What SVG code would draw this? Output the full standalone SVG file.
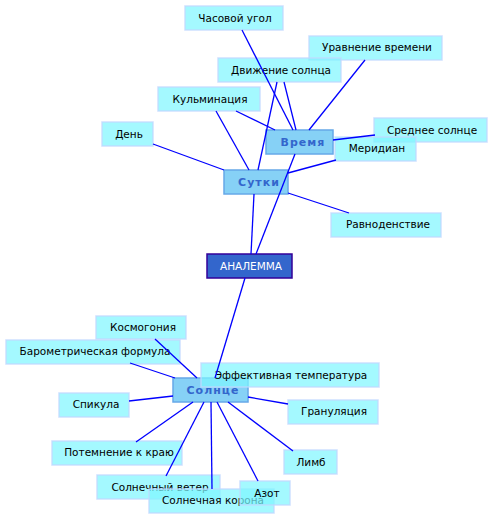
<svg xmlns="http://www.w3.org/2000/svg" width="493" height="520" viewBox="0 0 493 520">
<style>
.leaf rect{fill:#7ef6ff;fill-opacity:0.7;stroke:#c0d8ff;stroke-width:1.5;stroke-opacity:0.8}
.leaf text{font-family:"DejaVu Sans",sans-serif;font-size:10.5px;fill:#000;text-anchor:middle}
.hub rect{fill:#7fcff5;fill-opacity:0.95;stroke:#66a8e8;stroke-width:1.5}
.hub text{font-family:"DejaVu Sans",sans-serif;font-size:11px;font-weight:bold;fill:#3366cc;text-anchor:middle;letter-spacing:1px}
.root rect{fill:#3366cc;stroke:#330099;stroke-width:1.5}
.root text{font-family:"DejaVu Sans",sans-serif;font-size:10.5px;fill:#fff;text-anchor:middle}
#connectors line{stroke:#0000ff;stroke-width:1.3}
</style>
<g id="n-chasovoy" class="leaf"><rect x="185" y="6" width="98" height="24"/><text x="235" y="22">Часовой угол</text></g>
<g id="n-uravnenie" class="leaf"><rect x="309" y="36" width="133" height="24"/><text x="377" y="51">Уравнение времени</text></g>
<g id="n-dvizhenie" class="leaf"><rect x="218" y="58" width="123" height="24"/><text x="281" y="74">Движение солнца</text></g>
<g id="n-kulminatsiya" class="leaf"><rect x="158" y="87" width="102" height="24"/><text x="210" y="103">Кульминация</text></g>
<g id="n-den" class="leaf"><rect x="102" y="122" width="51" height="24"/><text x="129" y="138">День</text></g>
<g id="n-vremya" class="hub"><rect x="266" y="130" width="67" height="24"/><text x="303" y="146">Время</text></g>
<g id="n-srednee" class="leaf"><rect x="374" y="118" width="113" height="24"/><text x="432" y="134">Среднее солнце</text></g>
<g id="n-meridian" class="leaf"><rect x="335" y="137" width="81" height="24"/><text x="377" y="152">Меридиан</text></g>
<g id="n-sutki" class="hub"><rect x="224" y="170" width="64" height="24"/><text x="259" y="186">Сутки</text></g>
<g id="n-ravno" class="leaf"><rect x="331" y="213" width="110" height="24"/><text x="388" y="228">Равноденствие</text></g>
<g id="n-analemma" class="root"><rect x="207" y="254" width="85" height="24"/><text x="251" y="270">АНАЛЕММА</text></g>
<g id="n-kosmogoniya" class="leaf"><rect x="96" y="316" width="90" height="23"/><text x="143" y="331">Космогония</text></g>
<g id="n-barometr" class="leaf"><rect x="6" y="340" width="174" height="24"/><text x="95" y="355">Барометрическая формула</text></g>
<g id="n-solntse" class="hub"><rect x="173" y="378" width="75" height="24"/><text x="213" y="394">Солнце</text></g>
<g id="n-effekt" class="leaf"><rect x="201" y="363" width="178" height="24"/><text x="291" y="379">Эффективная температура</text></g>
<g id="n-spikula" class="leaf"><rect x="59" y="393" width="70" height="24"/><text x="96" y="408">Спикула</text></g>
<g id="n-granul" class="leaf"><rect x="288" y="400" width="90" height="24"/><text x="334" y="415">Грануляция</text></g>
<g id="n-potemnenie" class="leaf"><rect x="52" y="441" width="130" height="24"/><text x="119" y="456">Потемнение к краю</text></g>
<g id="n-limb" class="leaf"><rect x="284" y="450" width="53" height="24"/><text x="311" y="466">Лимб</text></g>
<g id="n-veter" class="leaf"><rect x="97" y="475" width="123" height="24"/><text x="160" y="491">Солнечный ветер</text></g>
<g id="n-korona" class="leaf"><rect x="149" y="489" width="125" height="24"/><text x="213" y="504">Солнечная корона</text></g>
<g id="n-azot" class="leaf"><rect x="240" y="481" width="50" height="24"/><text x="267" y="497">Азот</text></g>
<g id="connectors">
<line x1="242" y1="30" x2="293" y2="130"/>
<line x1="365" y1="60" x2="309" y2="130"/>
<line x1="284" y1="82" x2="296" y2="130"/>
<line x1="277" y1="82" x2="258" y2="170"/>
<line x1="236" y1="111" x2="275" y2="130"/>
<line x1="216" y1="111" x2="249" y2="170"/>
<line x1="153" y1="144" x2="224" y2="170"/>
<line x1="333" y1="140" x2="375" y2="135"/>
<line x1="288" y1="173" x2="336" y2="160"/>
<line x1="288" y1="193" x2="349" y2="213"/>
<line x1="254" y1="194" x2="251" y2="254"/>
<line x1="295" y1="154" x2="256" y2="254"/>
<line x1="245" y1="278" x2="215" y2="378"/>
<line x1="155" y1="339" x2="197" y2="378"/>
<line x1="130" y1="363" x2="175" y2="378"/>
<line x1="129" y1="401" x2="173" y2="396"/>
<line x1="248" y1="397" x2="288" y2="404"/>
<line x1="136" y1="442" x2="193" y2="402"/>
<line x1="166" y1="476" x2="204" y2="402"/>
<line x1="212" y1="489" x2="211" y2="402"/>
<line x1="258" y1="481" x2="217" y2="402"/>
<line x1="293" y1="451" x2="228" y2="402"/>
</g>
</svg>
